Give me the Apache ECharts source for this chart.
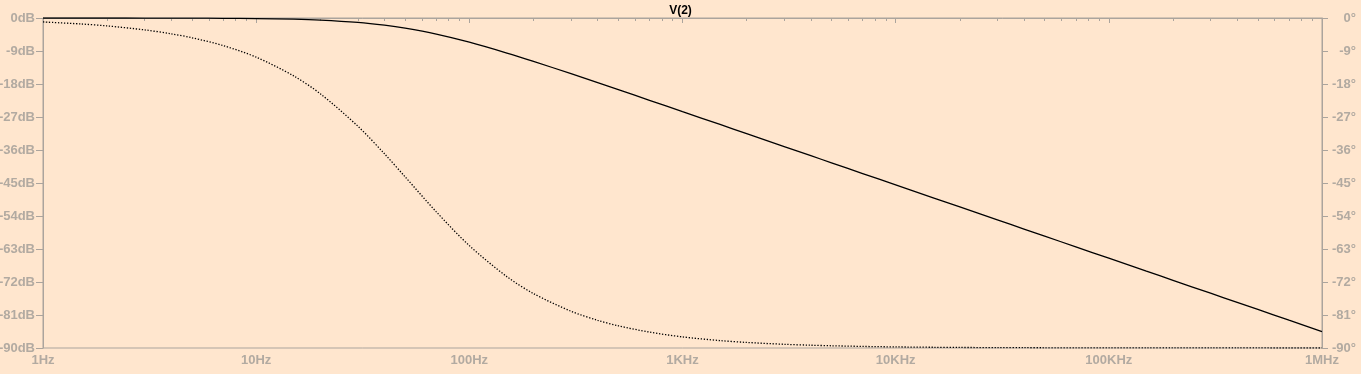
<!DOCTYPE html>
<html>
<head>
<meta charset="utf-8">
<script src="https://cdn.jsdelivr.net/npm/echarts@6/dist/echarts.min.js"></script>
<style>
html,body{margin:0;padding:0;background:#FFE6CE;}
#chart{width:1361px;height:374px;}
</style>
</head>
<body>
<div id="chart"></div>
<script>
var freqs = [1,1.5,2,3,4,5,7,10,15,20,30,40,50,70,100,150,200,300,400,500,700,
  1000,1500,2000,3000,4000,5000,7000,10000,15000,20000,30000,40000,50000,70000,
  100000,150000,200000,300000,400000,500000,700000,1000000];
// Magnitude of V(2), dB (solid line, left axis)
var magDb = [0,0,0,-0.01,-0.03,-0.04,-0.08,-0.15,-0.33,-0.58,-1.21,-1.96,-2.77,-4.39,-6.59,-9.55,-11.83,-15.19,-17.63,-19.54,-22.44,
  -25.53,-29.04,-31.54,-35.06,-37.56,-39.49,-42.42,-45.51,-49.04,-51.54,-55.06,-57.56,-59.49,-62.42,
  -65.51,-69.04,-71.54,-75.06,-77.56,-79.49,-82.42,-85.51];
// Phase of V(2), degrees (dotted line, right axis)
var phaseDeg = [-1.08,-1.62,-2.16,-3.24,-4.32,-5.39,-7.52,-10.68,-15.8,-20.67,-29.51,-37.04,-43.33,-52.87,-62.08,-70.54,-75.16,-79.98,-82.45,-83.95,-85.67,
  -86.97,-87.98,-88.48,-88.99,-89.24,-89.39,-89.57,-89.7,-89.8,-89.85,-89.9,-89.92,-89.94,-89.96,
  -89.97,-89.98,-89.98,-89.99,-89.99,-89.99,-90,-90];
// Axis tick labels
var freqLabels = {1:'1Hz',10:'10Hz',100:'100Hz',1000:'1KHz',10000:'10KHz',100000:'100KHz',1000000:'1MHz'};
var minorTickValues = [2,3,4,5,6,7,8,9,20,30,40,50,60,70,80,90,200,300,400,500,600,700,800,900,
  2000,3000,4000,5000,6000,7000,8000,9000,20000,30000,40000,50000,60000,70000,80000,90000,
  200000,300000,400000,500000,600000,700000,800000,900000];
var dbUnit = 'dB';
var degUnit = '°';

var axisGrey = '#ABA49D';
var labelGrey = '#B2AAA1';
var font = 'Liberation Sans, Arial, sans-serif';

var magData = freqs.map(function(f,i){return [f, magDb[i]];});
var phaseData = freqs.map(function(f,i){return [f, phaseDeg[i]];});

var chart = echarts.init(document.getElementById('chart'), null, {renderer:'canvas'});
chart.setOption({
  backgroundColor: '#FFE6CE',
  animation: false,
  title: {
    text: 'V(2)', left: 'center', top: 0,
    textStyle: {fontFamily: font, fontSize: 12, fontWeight: 'bold', color: '#000'}
  },
  grid: {left: 43, right: 39, top: 18, bottom: 26, containLabel: false, outerBoundsMode: 'none',
    show: true, borderColor: axisGrey, borderWidth: 1, backgroundColor: 'transparent'},
  xAxis: [{
    type: 'log', logBase: 10, min: 1, max: 1000000, position: 'bottom',
    axisLine: {show: true, lineStyle: {color: axisGrey, width: 1}},
    axisTick: {show: true, inside: false, length: 5, lineStyle: {color: axisGrey}},
    splitLine: {show: false},
    axisLabel: {
      margin: 6, color: labelGrey, fontFamily: font, fontSize: 13, fontWeight: 'bold',
      formatter: function(v){ var k = Math.round(v); return freqLabels[k] || ''; }
    }
  }, {
    type: 'log', logBase: 10, min: 1, max: 1000000, position: 'bottom',
    axisLine: {show: false},
    axisTick: {show: true, inside: false, length: 3, customValues: minorTickValues, lineStyle: {color: axisGrey}},
    axisLabel: {show: false},
    splitLine: {show: false}
  }],
  yAxis: [{
    type: 'value', min: -90, max: 0, interval: 9, position: 'left',
    axisLine: {show: true, lineStyle: {color: axisGrey}},
    axisTick: {show: true, length: 7, lineStyle: {color: axisGrey}},
    splitLine: {show: false},
    axisLabel: {margin: 8, color: labelGrey, fontFamily: font, fontSize: 13, fontWeight: 'bold',
      formatter: function(v){ return v + dbUnit; }}
  }, {
    type: 'value', min: -90, max: 0, interval: 9, position: 'right',
    axisLine: {show: true, lineStyle: {color: axisGrey}},
    axisTick: {show: true, length: 6, lineStyle: {color: axisGrey}},
    splitLine: {show: false},
    axisLabel: {margin: 34, align: 'right', color: labelGrey, fontFamily: font, fontSize: 13, fontWeight: 'bold',
      formatter: function(v){ return v + degUnit; }}
  }],
  series: [{
    name: 'mag', type: 'line', xAxisIndex: 0, yAxisIndex: 0, data: magData,
    showSymbol: false, smooth: 0.3,
    lineStyle: {color: '#000', width: 1.3}
  }, {
    name: 'phase', type: 'line', xAxisIndex: 0, yAxisIndex: 1, data: phaseData,
    showSymbol: false, smooth: 0.3,
    lineStyle: {color: '#000', width: 1.3, type: [1.3, 1.7]}
  }]
});
</script>
</body>
</html>
